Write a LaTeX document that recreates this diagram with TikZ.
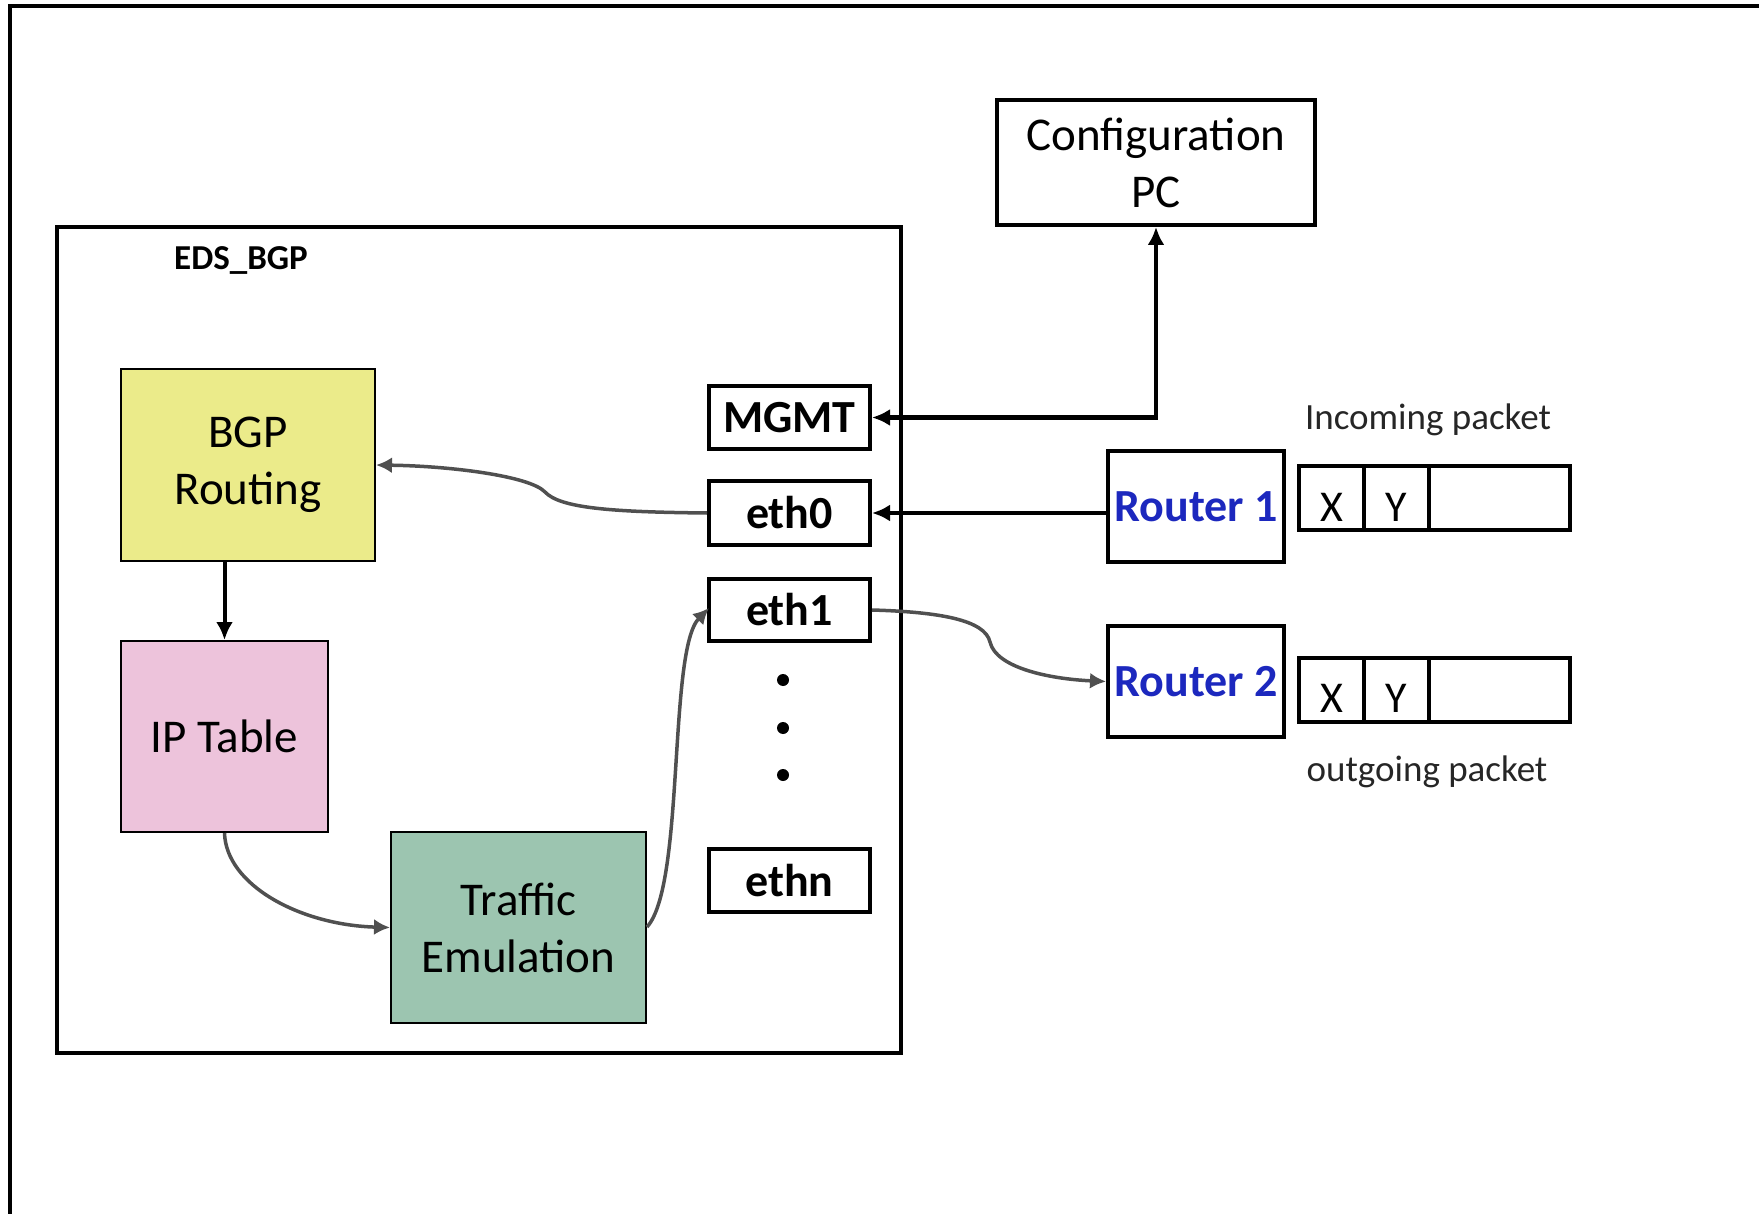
\documentclass[tikz,border=0pt]{standalone}
\usepackage{fontspec}
\setmainfont{Carlito}
\usetikzlibrary{arrows.meta}

\definecolor{bgpyellow}{RGB}{235,235,138}
\definecolor{iptpink}{RGB}{237,195,219}
\definecolor{trgreen}{RGB}{156,197,176}
\definecolor{routerblue}{RGB}{28,40,190}
\definecolor{curvegray}{RGB}{80,80,80}

\tikzset{
  frame/.style={draw=black, line width=4pt},
  plainbox/.style={draw=black, line width=4pt, fill=white, inner sep=0pt, align=center},
  colorbox/.style={draw=black, line width=2pt, inner sep=0pt, align=center,
    font=\fontsize{47}{57}\selectfont},
  portbox/.style={plainbox, font=\bfseries\fontsize{46}{52}\selectfont,
    minimum width=161pt},
  routerbox/.style={plainbox, minimum width=176pt, minimum height=111pt,
    font=\bfseries\fontsize{46}{52}\selectfont, text=routerblue},
  % packet fields: letters sit a little below the cell centre
  cell/.style={draw=black, line width=4pt, inner sep=0pt, outer sep=0pt,
    minimum height=64pt, text height=46pt, text depth=0pt,
    font=\fontsize{44}{50}\selectfont},
  caption/.style={inner sep=0pt, font=\fontsize{37}{42}\selectfont, text=black!85},
  solidarrow/.style={line width=4pt, -{Latex[length=18pt,width=17pt]}},
  grayarrow/.style={line width=3.5pt, draw=curvegray, -{Latex[length=16pt,width=16pt]}},
  dotmark/.style={circle, fill=black, inner sep=0pt, minimum size=12pt},
}

\begin{document}
\begin{tikzpicture}[x=1pt, y=-1pt]
  \clip (0,0) rectangle (1759,1214);
  \fill[white] (0,0) rectangle (1759,1214);

  % outer sheet border, running off the right and bottom edges
  \draw[frame] (10,6) rectangle (1800,1260);

  % EDS_BGP enclosure
  \node[plainbox, fill=none, minimum width=844pt, minimum height=826pt] (eds) at (479,640) {};
  \node[inner sep=0pt, font=\bfseries\fontsize{35}{40}\selectfont] (edslabel) at (241,260) {EDS\_BGP};

  % internal blocks
  \node[colorbox, fill=bgpyellow, minimum width=254pt, minimum height=192pt] (bgp) at (248,465) {BGP\\Routing};
  \node[colorbox, fill=iptpink, minimum width=207pt, minimum height=191pt] (ipt) at (224.5,736.5) {IP Table};
  \node[colorbox, fill=trgreen, minimum width=255pt, minimum height=191pt] (trf) at (518.5,927.5) {Traffic\\Emulation};

  % interfaces
  \node[portbox, minimum height=63pt] (mgmt) at (789.5,417.5) {MGMT};
  \node[portbox, minimum height=64pt] (eth0) at (789.5,513) {eth0};
  \node[portbox, minimum height=62pt] (eth1) at (789.5,610) {eth1};
  \node[portbox, minimum height=63pt] (ethn) at (789.5,880.5) {ethn};
  \node[dotmark] (dot1) at (783,680) {};
  \node[dotmark] (dot2) at (783,728) {};
  \node[dotmark] (dot3) at (783,775) {};

  % configuration PC
  \node[plainbox, minimum width=318pt, minimum height=125pt,
        font=\fontsize{47}{57}\selectfont] (cfg) at (1156,162.5) {Configuration\\PC};

  % routers
  \node[routerbox] (r1) at (1196,506.5) {Router 1};
  \node[routerbox] (r2) at (1196,681.5) {Router 2};

  % packets
  \node[cell, minimum width=65pt, anchor=west] (p1x) at (1299,498) {X};
  \node[cell, minimum width=65pt, anchor=west] (p1y) at (p1x.east) {Y};
  \node[cell, minimum width=141pt, anchor=west] (p1r) at (p1y.east) {};
  \node[cell, minimum width=65pt, anchor=west] (p2x) at (1299,689.5) {X};
  \node[cell, minimum width=65pt, anchor=west] (p2y) at (p2x.east) {Y};
  \node[cell, minimum width=141pt, anchor=west] (p2r) at (p2y.east) {};
  \node[caption] (inlabel) at (1428,420) {Incoming packet};
  \node[caption] (outlabel) at (1427,772) {outgoing packet};

  % management link
  \coordinate (cfgcorner) at (mgmt.east -| cfg.south);
  \draw[line width=4pt, {Latex[length=18pt,width=17pt]}-{Latex[length=18pt,width=17pt]}]
    (mgmt.east) -- (cfgcorner) -- (cfg.south);

  % router 1 into eth0
  \draw[solidarrow] (eth0.east -| r1.west) -- (eth0.east);

  % BGP to IP table
  \draw[solidarrow] (bgp.south -| ipt.north) -- (ipt.north);

  % eth0 to BGP routing
  \coordinate (w0) at (545,492);
  \draw[grayarrow] (eth0.west) .. controls (610,512) and (560,508) .. (w0)
    .. controls (530,476) and (450,466) .. (bgp.east);

  % IP table to traffic emulation
  \draw[grayarrow] (ipt.south) .. controls (226,885) and (300,925) .. (trf.west);

  % traffic emulation to eth1
  \coordinate (trout) at (647,927);
  \coordinate (e1in) at (709,608);
  \draw[grayarrow] (trout) .. controls (685,885) and (668,650) .. (e1in);

  % eth1 to router 2
  \coordinate (w1) at (990,642);
  \draw[grayarrow] (eth1.east) .. controls (940,612) and (985,620) .. (w1)
    .. controls (996,668) and (1050,679) .. (r2.west);
\end{tikzpicture}
\end{document}
